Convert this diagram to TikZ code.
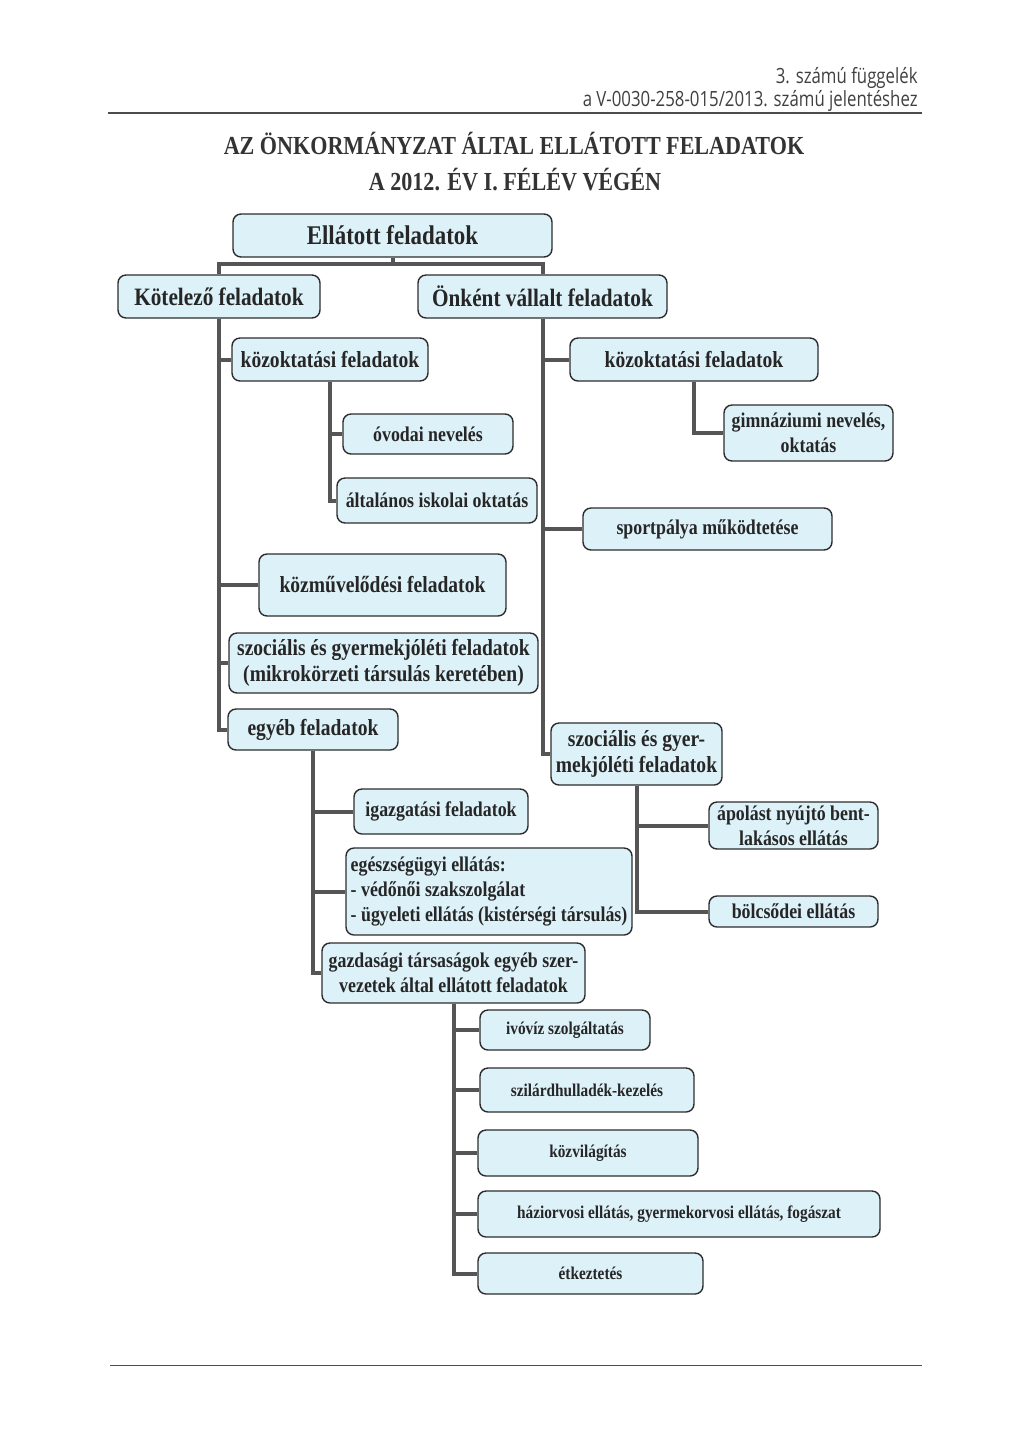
\documentclass[tikz,border=0pt]{standalone}
\usepackage{fontspec}
\setmainfont{Liberation Serif}
\newfontfamily\boxfont{Liberation Serif}[FakeStretch=0.85]
\newfontfamily\headfont{Open Sans}[FakeStretch=0.8]
\usepackage{xcolor}
\usetikzlibrary{positioning}
\definecolor{boxfill}{RGB}{221,241,249}
\definecolor{boxline}{RGB}{45,45,45}
\definecolor{linkgray}{RGB}{85,85,85}

\begin{document}
\begin{tikzpicture}[
    x=0.5pt, y=-0.5pt,
    box/.style={draw=boxline, fill=boxfill, rounded corners=4pt, line width=0.7pt, align=center, inner sep=1pt, text=black!85},
    lvtop/.style={font=\boxfont\bfseries\fontsize{13.5}{15}\selectfont},
    lvone/.style={font=\boxfont\bfseries\fontsize{12.5}{14}\selectfont},
    lvtwo/.style={font=\boxfont\bfseries\fontsize{11.5}{13}\selectfont},
    lvthree/.style={font=\boxfont\bfseries\fontsize{10.5}{12.5}\selectfont},
    lvfour/.style={font=\boxfont\bfseries\fontsize{9}{11}\selectfont},
    link/.style={draw=linkgray, line width=2pt},
    rule/.style={draw=black!70, line width=0.8pt},
    headline/.style={anchor=east, inner sep=0pt, text=black!75, font=\headfont\fontsize{10.5}{12}\selectfont},
    titleline/.style={inner sep=0pt, text=black!80, font=\boxfont\bfseries\fontsize{13}{15}\selectfont}
  ]
    \useasboundingbox (0,0) rectangle (1024,1448);

    % fejlec
    \node[headline] (fug) at (918,78) {3. számú függelék};
    \node[headline] (jel) at (918,101) {a V-0030-258-015/2013. számú jelentéshez};
    \draw[rule] (108,113) -- (922,113);
    \node[titleline] (cim1) at (514,143) {AZ ÖNKORMÁNYZAT ÁLTAL ELLÁTOTT FELADATOK};
    \node[titleline] (cim2) at (515,180) {A 2012. ÉV I. FÉLÉV VÉGÉN};

    % felso szint
    \node[box, lvtop, minimum width=159.5pt, minimum height=21.5pt] (ell) at (392.5,235.5) {Ellátott feladatok};
    \node[box, lvone, minimum width=101pt, minimum height=21.5pt] (kot) at (219,296.5) {Kötelező feladatok};
    \node[box, lvone, minimum width=124.5pt, minimum height=21.5pt] (onk) at (542.5,296.5) {Önként vállalt feladatok};

    % kotelezo feladatok
    \node[box, lvtwo, minimum width=98pt, minimum height=21.5pt] (kozl) at (330,359.5) {közoktatási feladatok};
    \node[box, lvthree, minimum width=85pt, minimum height=20pt] (ovo) at (428,434) {óvodai nevelés};
    \node[box, lvthree, minimum width=100pt, minimum height=22.5pt] (alt) at (437,500.5) {általános iskolai oktatás};
    \node[box, lvtwo, minimum width=123.5pt, minimum height=31pt] (kozmuv) at (382.5,585) {közművelődési feladatok};
    \node[box, lvtwo, minimum width=154.5pt, minimum height=30pt] (szocl) at (383.5,663) {szociális és gyermekjóléti feladatok\\(mikrokörzeti társulás keretében)};
    \node[box, lvtwo, minimum width=85pt, minimum height=20.5pt] (egyeb) at (313,729.5) {egyéb feladatok};
    \node[box, lvthree, minimum width=87pt, minimum height=22.5pt] (igaz) at (441,811.5) {igazgatási feladatok};
    \node[box, lvthree, minimum width=143pt, minimum height=43.5pt, align=left] (eu) at (489,891.5) {egészségügyi ellátás:\\- védőnői szakszolgálat\\- ügyeleti ellátás (kistérségi társulás)};
    \node[box, lvthree, minimum width=131.5pt, minimum height=30pt] (gazd) at (453.5,973) {gazdasági társaságok egyéb szer-\\vezetek által ellátott feladatok};
    \node[box, lvfour, minimum width=85pt, minimum height=20pt] (ivo) at (565,1030) {ivóvíz szolgáltatás};
    \node[box, lvfour, minimum width=107pt, minimum height=22pt] (szil) at (587,1090) {szilárdhulladék-kezelés};
    \node[box, lvfour, minimum width=110pt, minimum height=23pt] (kozvil) at (588,1153) {közvilágítás};
    \node[box, lvfour, minimum width=201pt, minimum height=23pt] (haz) at (679,1214) {háziorvosi ellátás, gyermekorvosi ellátás, fogászat};
    \node[box, lvfour, minimum width=112.5pt, minimum height=20.5pt] (etk) at (590.5,1273.5) {étkeztetés};

    % onkent vallalt feladatok
    \node[box, lvtwo, minimum width=124pt, minimum height=21.5pt] (kozr) at (694,359.5) {közoktatási feladatok};
    \node[box, lvthree, minimum width=84.5pt, minimum height=28pt] (gimn) at (808.5,433) {gimnáziumi nevelés,\\oktatás};
    \node[box, lvthree, minimum width=124.5pt, minimum height=21pt] (sport) at (707.5,529) {sportpálya működtetése};
    \node[box, lvtwo, minimum width=85.5pt, minimum height=31pt] (szocr) at (636.5,754) {szociális és gyer-\\mekjóléti feladatok};
    \node[box, lvthree, minimum width=84.5pt, minimum height=23.5pt] (apol) at (793.5,825.5) {ápolást nyújtó bent-\\lakásos ellátás};
    \node[box, lvthree, minimum width=84.5pt, minimum height=15.5pt] (bolcs) at (793.5,911.5) {bölcsődei ellátás};

    % osszekotesek
    \draw[link] (ell.south) -- ++(0,6) -| (kot.north);
    \draw[link] (ell.south) -- ++(0,6) -| (onk.north);
    \draw[link] (kot.south) |- (kozl.west);
    \draw[link] (kot.south) |- (kozmuv.west);
    \draw[link] (kot.south) |- (szocl.west);
    \draw[link] (kot.south) |- (egyeb.west);
    \draw[link] (kozl.south) |- (ovo.west);
    \draw[link] (kozl.south) |- (alt.west);
    \draw[link] (egyeb.south) |- (igaz.west);
    \draw[link] (egyeb.south) |- (eu.west);
    \draw[link] (egyeb.south) |- (gazd.west);
    \draw[link] (gazd.south) |- (ivo.west);
    \draw[link] (gazd.south) |- (szil.west);
    \draw[link] (gazd.south) |- (kozvil.west);
    \draw[link] (gazd.south) |- (haz.west);
    \draw[link] (gazd.south) |- (etk.west);
    \draw[link] (onk.south) |- (kozr.west);
    \draw[link] (onk.south) |- (sport.west);
    \draw[link] (onk.south) |- (szocr.west);
    \draw[link] (kozr.south) |- (gimn.west);
    \draw[link] (szocr.south) |- (apol.west);
    \draw[link] (szocr.south) |- (bolcs.west);

    \draw[rule, line width=0.5pt] (110,1365) -- (922,1365);
  \end{tikzpicture}
\end{document}
